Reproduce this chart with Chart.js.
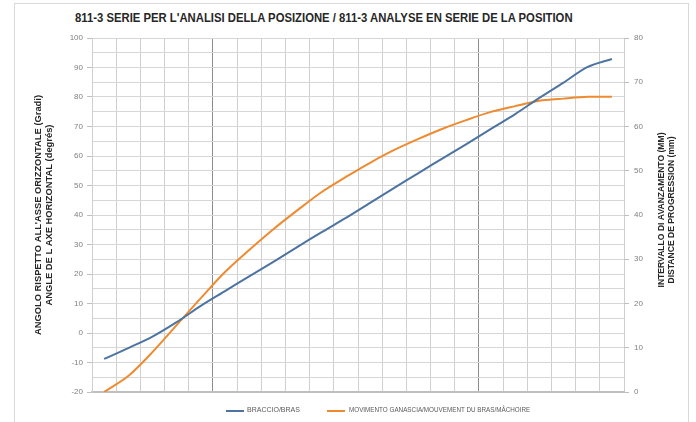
<!DOCTYPE html>
<html lang="it">
<head>
  <meta charset="UTF-8" />
  <title>811-3 Serie per l'analisi della posizione</title>
  <script src="https://cdn.jsdelivr.net/npm/chart.js"></script>
  <style>
    html, body { margin: 0; padding: 0; background: #fff; }
    body {
      width: 696px; height: 422px; position: relative; overflow: hidden;
      font-family: 'Liberation Sans', Arial, sans-serif;
    }
    .frame {
      position: absolute; left: 14px; top: 3px; width: 673px; height: 430px;
      border: 1px solid #d9d9d9;
    }
    #title {
      position: absolute; left: 75px; top: 11px;
      font-weight: bold; font-size: 12px; color: #262626;
      white-space: nowrap; transform-origin: 0 0;
    }
    .chart-box { position: absolute; left: 0; top: 0; width: 696px; height: 422px; }
    .leg-text {
      position: absolute; top: 406px; font-size: 7px; color: #595959;
      white-space: nowrap; transform-origin: 0 0;
    }
    .swatch { position: absolute; top: 410px; width: 18px; height: 2px; }
  </style>
</head>
<body>
  <div class="frame"></div>
  <div id="title">811-3 SERIE PER L'ANALISI DELLA POSIZIONE / 811-3 ANALYSE EN SERIE DE LA POSITION</div>
  <div class="chart-box"><canvas id="chart"></canvas></div>

  <!-- legend -->
  <div class="swatch" style="left:226px; background:#4d74a0"></div>
  <div class="leg-text" id="leg1" style="left:247px">BRACCIO/BRAS</div>
  <div class="swatch" style="left:327px; background:#ee8a2f"></div>
  <div class="leg-text" id="leg2" style="left:349px">MOVIMENTO GANASCIA/MOUVEMENT DU BRAS/MÂCHOIRE</div>

  <script>
    // positions along the stroke (no labels shown on the axis)
    const categories = ['1','2','3','4','5','6','7','8','9','10','11',
                        '12','13','14','15','16','17','18','19','20','21','22'];
    // arm angle, degrees (left axis)
    const braccioDeg = [-8.8, -5.1, -1.2, 3.7, 9.2, 14.2, 19.2, 24.1, 29.2, 34.2, 39.0,
                        44.1, 49.2, 54.2, 59.2, 64.1, 69.2, 74.2, 79.7, 84.9, 90.2, 92.9];
    // jaw travel, mm (right axis)
    const ganasciaMm = [0, 3.6, 9.0, 15.1, 21.2, 27.1, 32.1, 36.8, 41.1, 45.2, 48.6,
                        51.8, 54.7, 57.2, 59.5, 61.5, 63.3, 64.6, 65.8, 66.3, 66.7, 66.7];
    const angleTicks = [-20, -10, 0, 10, 20, 30, 40, 50, 60, 70, 80, 90, 100];
    const mmTicks = [0, 10, 20, 30, 40, 50, 60, 70, 80];

    const leftTitle = ["ANGOLO RISPETTO ALL'ASSE ORIZZONTALE (Gradi)",
                       "ANGLE DE L AXE HORIZONTAL (degrés)"];
    const rightTitle = ["INTERVALLO DI AVANZAMENTO (MM)",
                        "DISTANCE DE PROGRESSION (mm)"];

    // fit condensed text to the width seen in the original
    function fitWidth(id, w) {
      const el = document.getElementById(id);
      el.style.transform = 'scaleX(' + (w / el.offsetWidth) + ')';
    }
    fitWidth('title', 498);
    fitWidth('leg1', 53);
    fitWidth('leg2', 181);

    function drawRotated(ctx, lines, xs, cy, firstLen) {
      ctx.save();
      ctx.font = 'bold 9px "Liberation Sans", Arial, sans-serif';
      ctx.fillStyle = '#262626';
      ctx.textAlign = 'center';
      ctx.textBaseline = 'middle';
      const k = firstLen / ctx.measureText(lines[0]).width;
      lines.forEach((t, i) => {
        ctx.save();
        ctx.translate(xs[i], cy);
        ctx.rotate(-Math.PI / 2);
        ctx.scale(k, 1);
        ctx.fillText(t, 0, 0);
        ctx.restore();
      });
      ctx.restore();
    }

    const axisTitles = {
      id: 'axisTitles',
      afterDraw(chart) {
        const a = chart.chartArea;
        const mid = (a.top + a.bottom) / 2;
        drawRotated(chart.ctx, leftTitle, [39, 50], mid, 240);
        drawRotated(chart.ctx, rightTitle, [662, 672], mid - 5, 155);
      }
    };

    const tickFont = { family: '"Liberation Sans", Arial, sans-serif', size: 8 };

    new Chart(document.getElementById('chart'), {
      type: 'line',
      data: {
        labels: categories,
        datasets: [
          {
            label: 'BRACCIO/BRAS',
            data: braccioDeg,
            yAxisID: 'y',
            borderColor: '#4d74a0',
            borderWidth: 2,
            pointRadius: 0,
            tension: 0.3
          },
          {
            label: 'MOVIMENTO GANASCIA/MOUVEMENT DU BRAS/MÂCHOIRE',
            data: ganasciaMm,
            yAxisID: 'y1',
            borderColor: '#ee8a2f',
            borderWidth: 2,
            pointRadius: 0,
            tension: 0.3
          }
        ]
      },
      options: {
        responsive: true,
        maintainAspectRatio: false,
        animation: false,
        layout: { padding: { top: 38, left: 0, right: 0, bottom: 0 } },
        plugins: { legend: { display: false }, tooltip: { enabled: false } },
        scales: {
          x: {
            offset: true,
            grid: {
              offset: true,
              drawTicks: false,
              color: ctx => (ctx.index === 5 || ctx.index === 16) ? '#8c8c8c' : '#cfcfcf'
            },
            border: { display: true, color: '#bfbfbf', width: 2 },
            ticks: { display: false },
            afterFit: s => { s.height = 30; }
          },
          y: {
            position: 'left',
            min: -20,
            max: 100,
            ticks: {
              stepSize: 5,
              font: tickFont,
              color: '#7f7f7f',
              padding: 4,
              callback: v => angleTicks.includes(v) ? v : ''
            },
            grid: {
              color: '#d6d6d6',
              tickLength: 5,
              tickColor: ctx => (ctx.tick && angleTicks.includes(ctx.tick.value)) ? '#bfbfbf' : 'rgba(0,0,0,0)'
            },
            border: { color: '#cfcfcf' },
            afterFit: s => { s.width = 92; }
          },
          y1: {
            position: 'right',
            min: 0,
            max: 80,
            ticks: {
              stepSize: 10,
              font: tickFont,
              color: '#7f7f7f',
              padding: 5,
              callback: v => mmTicks.includes(v) ? v : ''
            },
            grid: { drawOnChartArea: false, tickLength: 5, tickColor: '#bfbfbf' },
            border: { display: false },
            afterFit: s => { s.width = 72; }
          }
        }
      },
      plugins: [axisTitles]
    });
  </script>
</body>
</html>
